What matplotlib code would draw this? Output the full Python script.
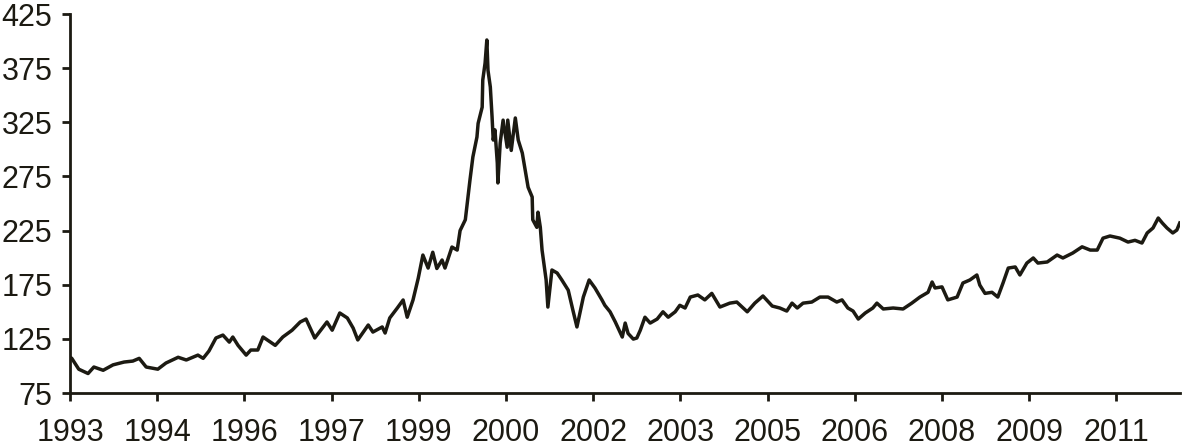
import numpy as np
import matplotlib.pyplot as plt

# Index level (decimal year, value)
years = [
    1993.00, 1993.03, 1993.15, 1993.31, 1993.41, 1993.57, 1993.74, 1993.93,
    1994.08, 1994.19, 1994.31, 1994.51, 1994.65, 1994.86, 1995.00, 1995.20,
    1995.29, 1995.39, 1995.51, 1995.63, 1995.74, 1995.80, 1995.89, 1996.03,
    1996.11, 1996.23, 1996.32, 1996.53, 1996.66, 1996.82, 1996.96, 1997.06,
    1997.21, 1997.34, 1997.42, 1997.51, 1997.64, 1997.77, 1997.87, 1997.95,
    1998.13, 1998.21, 1998.37, 1998.42, 1998.50, 1998.63, 1998.73, 1998.80,
    1998.90, 1998.99, 1999.07, 1999.16, 1999.24, 1999.31, 1999.40, 1999.45,
    1999.57, 1999.66, 1999.71, 1999.80, 1999.88, 1999.93, 2000.00, 2000.02,
    2000.09, 2000.10, 2000.14, 2000.17, 2000.19, 2000.23, 2000.26, 2000.28,
    2000.31, 2000.35, 2000.36, 2000.40, 2000.45, 2000.52, 2000.53, 2000.59,
    2000.66, 2000.71, 2000.78, 2000.83, 2000.88, 2000.95, 2000.96, 2001.03,
    2001.05, 2001.09, 2001.12, 2001.19, 2001.22, 2001.29, 2001.38, 2001.46,
    2001.57, 2001.65, 2001.72, 2001.83, 2001.93, 2002.03, 2002.15, 2002.20,
    2002.29, 2002.38, 2002.50, 2002.55, 2002.60, 2002.69, 2002.75, 2002.81,
    2002.89, 2002.98, 2003.10, 2003.20, 2003.29, 2003.41, 2003.49, 2003.58,
    2003.67, 2003.80, 2003.92, 2004.04, 2004.18, 2004.35, 2004.47, 2004.65,
    2004.78, 2004.92, 2005.08, 2005.21, 2005.33, 2005.42, 2005.51, 2005.61,
    2005.76, 2005.90, 2006.04, 2006.19, 2006.28, 2006.38, 2006.47, 2006.56,
    2006.68, 2006.81, 2006.88, 2006.99, 2007.16, 2007.33, 2007.48, 2007.62,
    2007.76, 2007.83, 2007.88, 2008.00, 2008.10, 2008.26, 2008.36, 2008.48,
    2008.60, 2008.65, 2008.74, 2008.86, 2008.96, 2009.05, 2009.14, 2009.26,
    2009.34, 2009.46, 2009.57, 2009.65, 2009.81, 2009.98, 2010.08, 2010.25,
    2010.41, 2010.55, 2010.67, 2010.77, 2010.89, 2011.06, 2011.20, 2011.32,
    2011.44, 2011.53, 2011.63, 2011.72, 2011.79, 2011.87, 2011.97, 2012.04,
    2012.09,
]
values = [
    108.0, 107.0, 97.0, 93.0, 99.0, 96.0, 101.0, 103.6,
    104.5, 107.0, 99.0, 97.0, 102.7, 108.0, 105.5, 110.0,
    107.0, 113.8, 125.8, 128.5, 122.0, 126.7, 119.0, 110.0,
    114.7, 114.7, 126.7, 119.0, 126.7, 133.0, 140.6, 143.3,
    125.8, 135.0, 140.6, 133.0, 148.9, 144.3, 135.0, 124.0,
    137.8, 131.3, 136.0, 130.4, 144.3, 153.5, 160.9, 145.0,
    160.9, 181.0, 202.4, 190.4, 205.0, 190.0, 197.8, 190.4,
    209.8, 207.0, 225.0, 235.0, 271.7, 293.0, 311.4, 324.0,
    339.0, 364.0, 379.7, 401.0, 373.0, 357.6, 330.0, 308.6,
    318.0, 287.4, 269.0, 306.0, 327.0, 302.0, 327.0, 299.0,
    329.0, 308.6, 296.6, 281.0, 265.0, 256.0, 235.0, 228.0,
    242.0, 228.0, 207.0, 179.4, 154.4, 188.6, 185.8, 179.4,
    170.0, 151.6, 136.0, 163.6, 179.4, 172.0, 161.0, 156.0,
    150.0, 140.6, 126.7, 139.6, 130.0, 124.8, 125.8, 133.0,
    145.0, 139.6, 143.3, 150.0, 145.0, 150.0, 156.0, 153.5,
    163.6, 165.5, 161.0, 167.0, 154.4, 158.0, 159.0, 150.0,
    158.0, 164.6, 155.3, 153.5, 150.7, 158.0, 153.5, 158.0,
    159.0, 163.6, 163.6, 159.0, 161.0, 153.5, 150.7, 143.3,
    148.9, 153.5, 158.0, 152.6, 153.5, 152.6, 158.0, 163.6,
    168.0, 177.5, 172.0, 173.0, 161.0, 163.6, 176.6, 179.4,
    184.0, 174.7, 167.0, 168.0, 163.6, 176.6, 190.4, 191.4,
    184.0, 195.0, 199.7, 195.0, 196.0, 202.4, 199.7, 204.3,
    210.0, 207.0, 207.0, 218.0, 220.0, 218.0, 214.4, 216.0,
    213.5, 222.8, 227.4, 236.6, 232.0, 227.4, 222.8, 225.5,
    232.0,
]

tick_pos = [1993.0, 1994.5, 1996.0, 1997.5, 1999.0, 2000.5, 2002.0,
            2003.5, 2005.0, 2006.5, 2008.0, 2009.5, 2011.0]
tick_labels = ['1993', '1994', '1996', '1997', '1999', '2000', '2002',
               '2003', '2005', '2006', '2008', '2009', '2011']
y_ticks = [75, 125, 175, 225, 275, 325, 375, 425]

ink = '#1c1a12'
plt.rcParams['font.family'] = ['Liberation Sans', 'DejaVu Sans']

fig = plt.figure(figsize=(11.83, 4.46), dpi=100)
ax = fig.add_axes([0.0592, 0.1188, 0.9383, 0.8498])

ax.plot(years, values, color=ink, linewidth=2.5, solid_joinstyle='round')

ax.set_xlim(1993.0, 2012.095)
ax.set_ylim(75, 425)
ax.set_xticks(tick_pos)
ax.set_xticklabels(tick_labels)
ax.set_yticks(y_ticks)

for side in ['top', 'right']:
    ax.spines[side].set_visible(False)
for side in ['left', 'bottom']:
    ax.spines[side].set_color(ink)
    ax.spines[side].set_linewidth(2.0)

ax.tick_params(axis='both', direction='out', length=5.8, width=2.0,
               color=ink, labelcolor=ink, labelsize=22)
ax.tick_params(axis='x', pad=12)
ax.tick_params(axis='y', pad=7)

plt.savefig('out.png', dpi=100)
